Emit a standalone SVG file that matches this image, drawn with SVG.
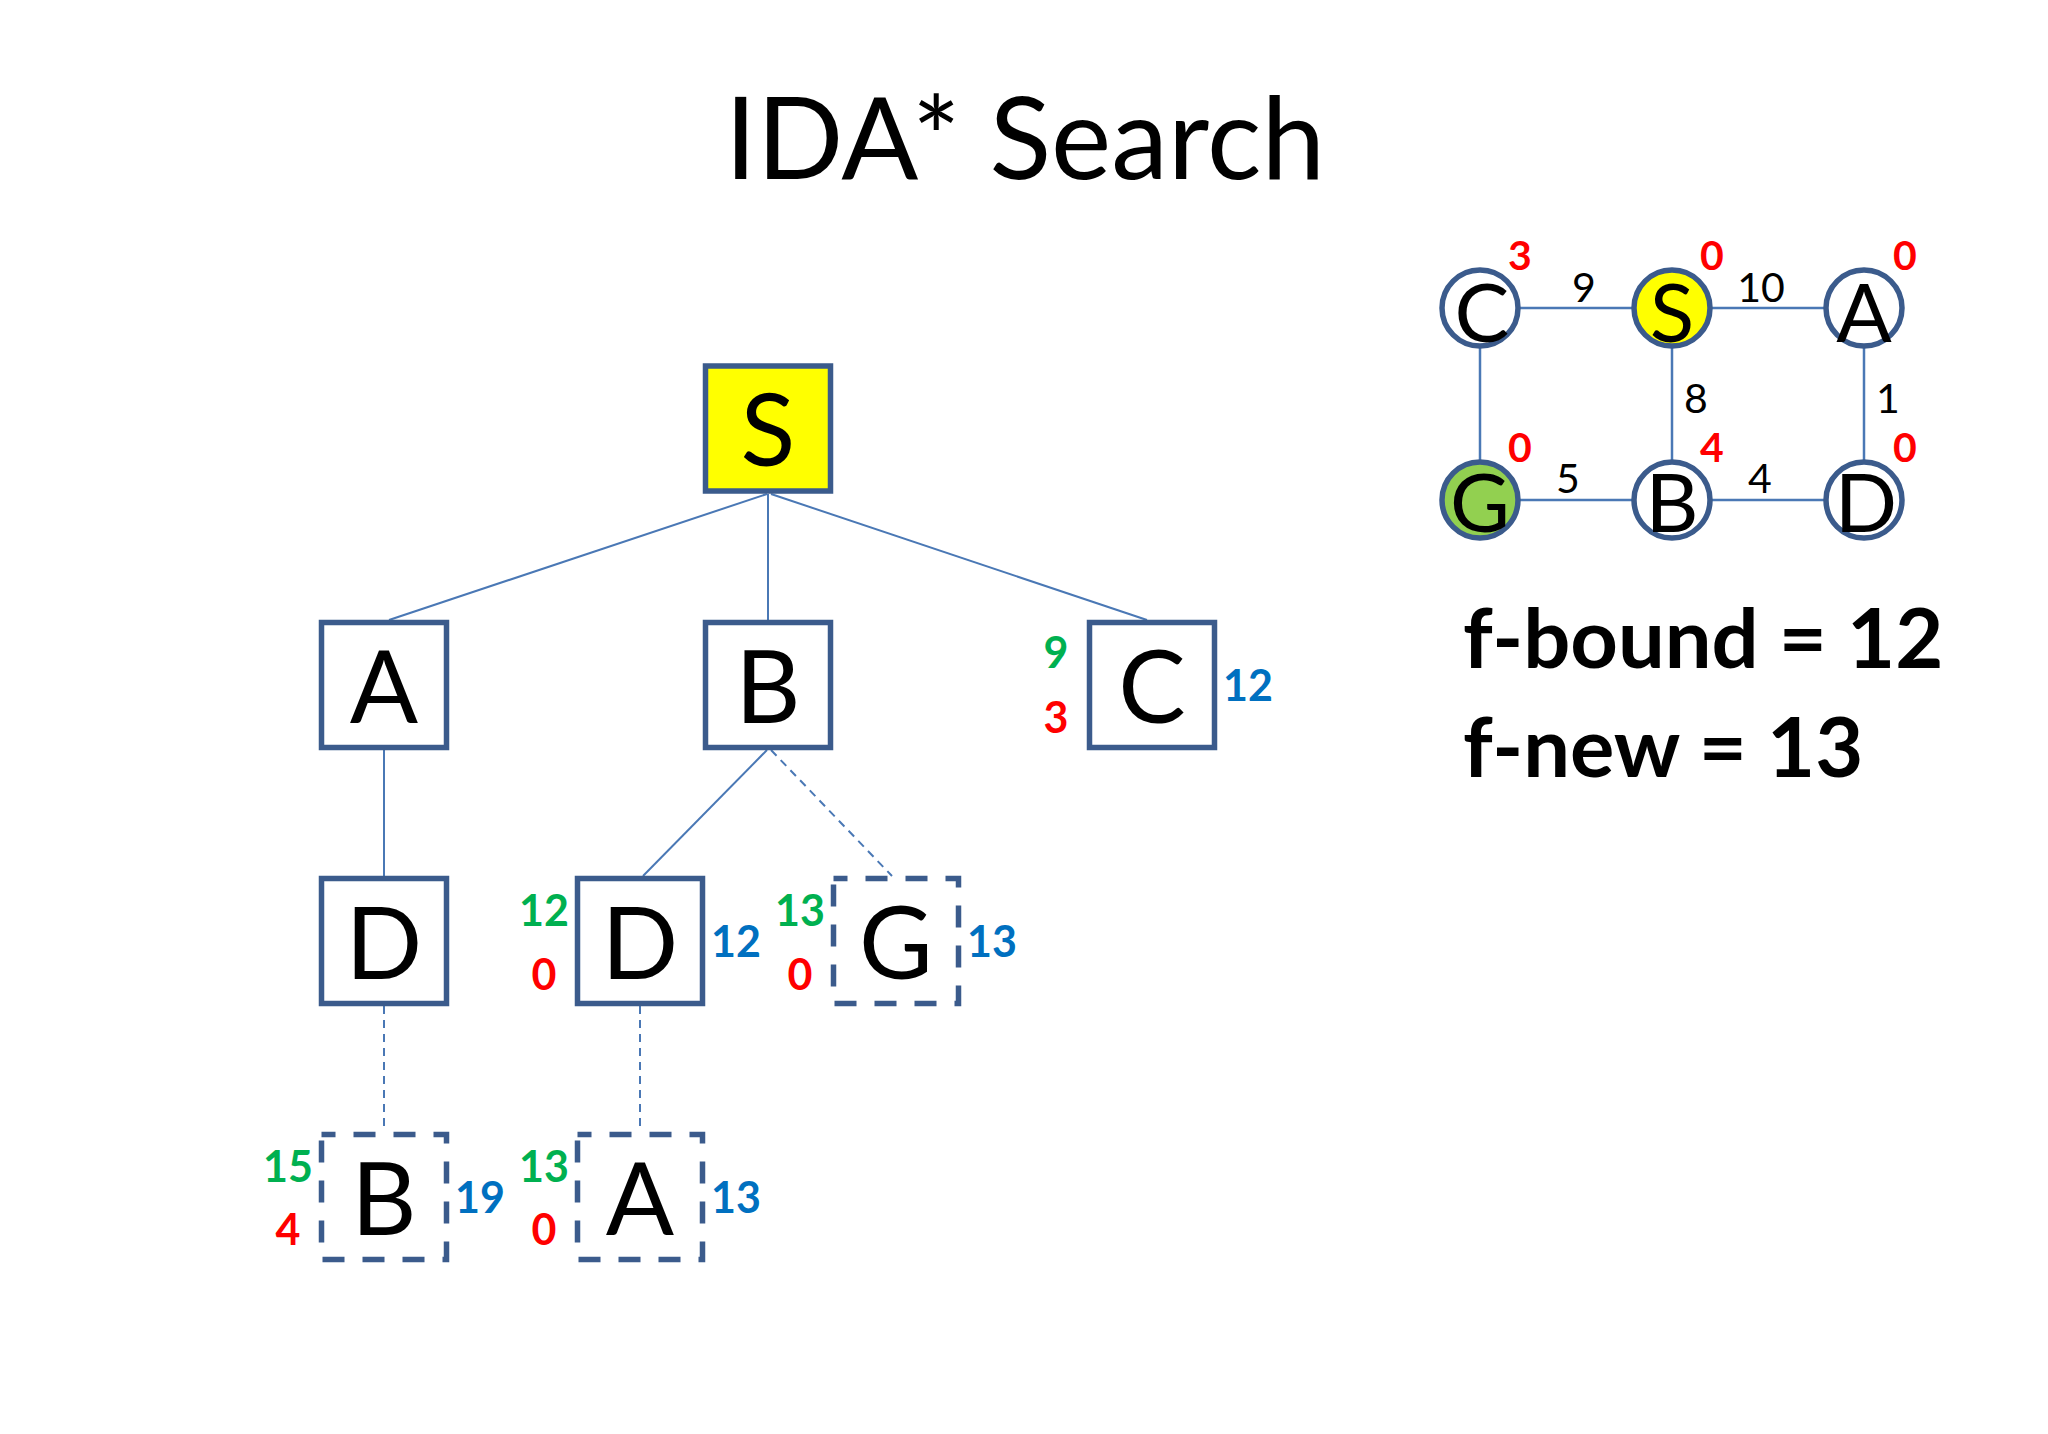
<svg xmlns="http://www.w3.org/2000/svg" width="2048" height="1434" viewBox="0 0 2048 1434">
<style>
text{font-family:Lato,"Liberation Sans",sans-serif}
.box{fill:#ffffff;stroke:#3b5b8c;stroke-width:5.5}
.dbox{fill:#ffffff;stroke:#3b5b8c;stroke-width:5.5;stroke-dasharray:22 18;stroke-dashoffset:8}
.big{font-size:101px;fill:#000;text-anchor:middle}
.edge{stroke:#4a78b5;stroke-width:2;fill:none}
.dedge{stroke:#4a78b5;stroke-width:2;fill:none;stroke-dasharray:8 6}
.num{font-size:43px;font-weight:bold;text-anchor:middle}
.g{fill:#00b050}.r{fill:#ff0000}.b{fill:#0070c0}
.circ{fill:#ffffff;stroke:#3b5b8c;stroke-width:5.5}
.cl{font-size:82px;fill:#000;text-anchor:middle}
.w{font-size:41px;fill:#000;text-anchor:middle}
.h{font-size:41px;font-weight:bold;fill:#ff0000;text-anchor:middle}
.gedge{stroke:#4a78b5;stroke-width:2.5}
</style>
<rect width="2048" height="1434" fill="#ffffff"/>
<text x="1025" y="179" font-size="114" text-anchor="middle" fill="#000">IDA* Search</text>

<g id="tree-connectors">
<line class="edge" x1="767" y1="494" x2="389" y2="620"/>
<line class="edge" x1="768" y1="494" x2="768" y2="620"/>
<line class="edge" x1="771" y1="494" x2="1147" y2="620"/>
<line class="edge" x1="384" y1="750" x2="384" y2="876"/>
<line class="edge" x1="767" y1="750" x2="643" y2="876"/>
<line class="dedge" x1="771" y1="750" x2="892" y2="876"/>
<line class="dedge" x1="384" y1="1006" x2="384" y2="1132"/>
<line class="dedge" x1="640" y1="1006" x2="640" y2="1132"/>
</g>

<g id="t-S">
<rect x="705.5" y="366" width="125" height="125" fill="#ffff00" stroke="#3b5b8c" stroke-width="5.5"/>
<text class="big" x="768" y="466">S</text>
</g>
<g id="t-A">
<rect class="box" x="321.5" y="622.5" width="125" height="125"/>
<text class="big" x="384" y="723">A</text>
</g>
<g id="t-B">
<rect class="box" x="705.5" y="622.5" width="125" height="125"/>
<text class="big" x="768" y="723">B</text>
</g>
<g id="t-C">
<rect class="box" x="1089.5" y="622.5" width="125" height="125"/>
<text class="big" x="1152" y="723">C</text>
<text class="num g" x="1056" y="668">9</text>
<text class="num r" x="1056" y="733">3</text>
<text class="num b" x="1248" y="701">12</text>
</g>
<g id="t-D1">
<rect class="box" x="321.5" y="878.5" width="125" height="125"/>
<text class="big" x="384" y="979">D</text>
</g>
<g id="t-D2">
<rect class="box" x="577.5" y="878.5" width="125" height="125"/>
<text class="big" x="640" y="979">D</text>
<text class="num g" x="544" y="926">12</text>
<text class="num r" x="544" y="990">0</text>
<text class="num b" x="736" y="957">12</text>
</g>
<g id="t-G">
<rect class="dbox" x="833.5" y="878.5" width="125" height="125"/>
<text class="big" x="896" y="979">G</text>
<text class="num g" x="800" y="926">13</text>
<text class="num r" x="800" y="990">0</text>
<text class="num b" x="992" y="957">13</text>
</g>
<g id="t-B2">
<rect class="dbox" x="321.5" y="1134.5" width="125" height="125"/>
<text class="big" x="384" y="1235">B</text>
<text class="num g" x="288" y="1182">15</text>
<text class="num r" x="288" y="1245">4</text>
<text class="num b" x="480" y="1213">19</text>
</g>
<g id="t-A2">
<rect class="dbox" x="577.5" y="1134.5" width="125" height="125"/>
<text class="big" x="640" y="1235">A</text>
<text class="num g" x="544" y="1182">13</text>
<text class="num r" x="544" y="1245">0</text>
<text class="num b" x="736" y="1213">13</text>
</g>

<g id="graph-connectors">
<line class="gedge" x1="1518" y1="308" x2="1634" y2="308"/>
<line class="gedge" x1="1710" y1="308" x2="1826" y2="308"/>
<line class="gedge" x1="1518" y1="500" x2="1634" y2="500"/>
<line class="gedge" x1="1710" y1="500" x2="1826" y2="500"/>
<line class="gedge" x1="1480" y1="346" x2="1480" y2="462"/>
<line class="gedge" x1="1672" y1="346" x2="1672" y2="462"/>
<line class="gedge" x1="1864" y1="346" x2="1864" y2="462"/>
<text class="w" x="1584" y="302">9</text>
<text class="w" x="1761" y="302">10</text>
<text class="w" x="1696" y="413">8</text>
<text class="w" x="1888" y="413">1</text>
<text class="w" x="1568" y="493">5</text>
<text class="w" x="1760" y="493">4</text>
</g>

<g id="g-C">
<circle class="circ" cx="1480" cy="308" r="38"/>
<text class="cl" x="1482" y="342">C</text>
<text class="h" x="1520" y="270">3</text>
</g>
<g id="g-S">
<circle cx="1672" cy="308" r="38" fill="#ffff00" stroke="#3b5b8c" stroke-width="5.5"/>
<text class="cl" x="1672" y="342">S</text>
<text class="h" x="1712" y="270">0</text>
</g>
<g id="g-A">
<circle class="circ" cx="1864" cy="308" r="38"/>
<text class="cl" x="1864" y="342">A</text>
<text class="h" x="1905" y="270">0</text>
</g>
<g id="g-G">
<circle cx="1480" cy="500" r="38" fill="#92d050" stroke="#3b5b8c" stroke-width="5.5"/>
<text class="cl" x="1480" y="532">G</text>
<text class="h" x="1520" y="462">0</text>
</g>
<g id="g-B">
<circle class="circ" cx="1672" cy="500" r="38"/>
<text class="cl" x="1672" y="532">B</text>
<text class="h" x="1712" y="462">4</text>
</g>
<g id="g-D">
<circle class="circ" cx="1864" cy="500" r="38"/>
<text class="cl" x="1866" y="532">D</text>
<text class="h" x="1905" y="462">0</text>
</g>

<text x="1463" y="668" font-size="83" font-weight="bold" fill="#000">f-bound = 12</text>
<text x="1463" y="777" font-size="83" font-weight="bold" fill="#000">f-new = 13</text>
</svg>
